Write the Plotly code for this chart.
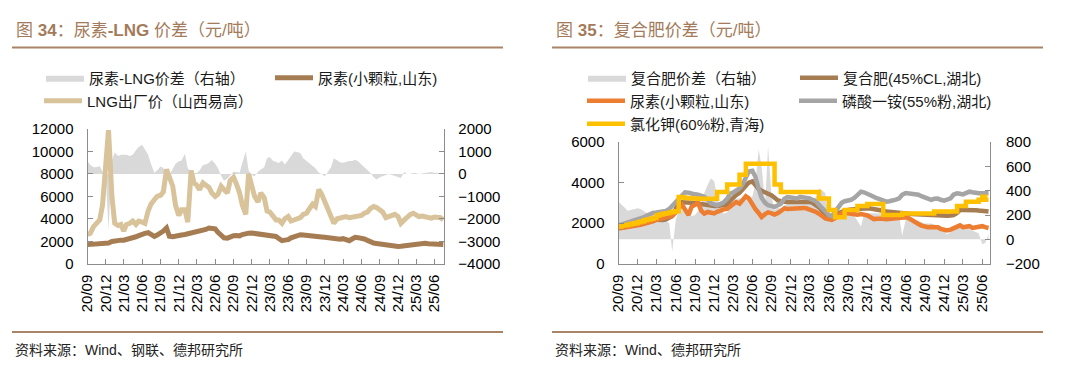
import pandas as pd
import plotly.graph_objects as go

# ---------------- data: left chart (semi-monthly, from 2020-09-01) ----------------
left_dates = pd.date_range("2020-09-01", periods=118, freq="SMS")

urea_lng_spread = [
    560, 400, 300, 300, 350, 100, 0, -2500, 600, 950, 800, 850, 850, 850, 800, 850,
    1050, 1200, 1300, 1080, 850, 450, 50, 150, 330, 260, 0, -50, 250, 450, 560, 600,
    900, 250, 100, 30, 50, 150, 400, 420, 500, 620, 450, 250, -80, -300, -200, -50,
    100, 80, 50, 500, 1000, 150, -50, -100, 100, 200, 300, 700, 750, 600, 520, 480,
    600, 420, 620, 820, 1000, 980, 930, 700, 580, 450, 350, 250, 50, 0, -100, 100,
    300, 700, 600, 520, 500, 550, 580, 570, 630, 560, 420, 280, 150, 50, -150, -250,
    -150, -100, -30, 0, -50, -100, -150, -180, 80, -20, 10, 40, 30, 0, 20, 40,
    60, 80, 50, 40, 50, 40]

urea_sd = [
    1700, 1720, 1750, 1760, 1770, 1780, 1800, 1850, 1980, 2050, 2080, 2100, 2100, 2150, 2200, 2250,
    2400, 2500, 2650, 2700, 2760, 2600, 2430, 2550, 2730, 2900, 3180, 2450, 2400, 2480, 2520, 2560,
    2600, 2650, 2700, 2750, 2880, 2850, 2900, 3050, 3180, 3150, 3100, 2800, 2450, 2300, 2280, 2400,
    2500, 2520, 2480, 2600, 2700, 2720, 2730, 2700, 2680, 2670, 2650, 2600, 2580, 2500, 2430, 2250,
    2050, 2100, 2140, 2300, 2430, 2500, 2580, 2550, 2500, 2520, 2520, 2450, 2400, 2380, 2350, 2300,
    2230, 2180, 2140, 2180, 2230, 2150, 2050, 2200, 2350, 2320, 2290, 2200, 2080, 1950, 1840, 1800,
    1750, 1720, 1690, 1680, 1660, 1600, 1540, 1560, 1600, 1680, 1750, 1780, 1810, 1840, 1870, 1820,
    1780, 1780, 1780, 1730, 1700, 1710]

lng_price = [
    2600, 2700, 3300, 3600, 3900, 5200, 9500, 11900, 6000, 3600, 3400, 3500, 2900, 3500, 3600, 3800,
    3500, 3800, 3700, 3600, 4700, 5300, 5700, 6000, 6100, 6400, 8400, 7700, 6900, 5200, 4300, 4800,
    4800, 3700, 8300, 7200, 7000, 6600, 7200, 7000, 6800, 6300, 6000, 6200, 6900, 6600, 6300, 7400,
    7700, 7100, 6300, 5200, 4400, 8000, 6900, 6000, 5500, 6300, 5900, 4700, 4600, 4200, 3900, 3900,
    3600, 4000, 4200, 3800, 3900, 4000, 4100, 4400, 4500, 4900, 5300, 5100, 6600, 6200, 5500, 5000,
    4400, 3600, 4000, 4100, 4150, 4200, 4100, 4150, 4200, 4250, 4300, 4500, 4600, 4900, 5100, 5000,
    4800, 4600, 4100, 4200, 4300, 4400, 4200, 3600, 3900, 4200, 4400, 4500, 4300, 4200, 4250, 4200,
    4100, 4050, 4150, 4100, 4100, 3900]

# ---------------- data: right chart (semi-monthly, from 2020-09-01) ----------------
right_dates = pd.date_range("2020-09-01", periods=117, freq="SMS")

compound_spread = [
    310, 290, 260, 235, 240, 250, 255, 250, 230, 215, 208, 200, 190, 186, 170, 160,
    130, -100, 160, 240, 250, 220, 200, 190, 200, 230, 300, 380, 450, 500, 480, 350,
    250, 210, 220, 260, 300, 330, 340, 330, 320, 330, 350, 450, 740, 600, 300, 760,
    350, 240, 260, 250, 280, 290, 300, 300, 290, 300, 310, 320, 330, 320, 350, 420,
    400, 380, 170, 160, 160, 190, 200, 200, 200, 200, 190, 150, 105, 200, 214, 214,
    214, 214, 214, 214, 214, 214, 214, 210, 200, 30, 160, 160, 160, 150, 150, 140,
    130, 130, 130, 120, 90, 80, 70, 40, 60, 100, 105, 110, 105, 100, 80, 70,
    60, 50, -40, -30, 40]

compound_hb = [
    1810, 1850, 1880, 1920, 1970, 1990, 2010, 2030, 2050, 2100, 2180, 2170, 2150, 2140, 2150, 2180,
    2250, 2350, 2700, 3010, 3030, 3040, 3020, 3010, 2990, 2960, 2940, 2910, 2880, 2850, 2840, 2840,
    2850, 2880, 2910, 3100, 3280, 3380, 3500, 3680, 3850, 4000, 4060, 3850, 3680, 3600, 3530, 3450,
    3370, 3250, 3120, 3080, 3040, 3040, 3040, 3040, 3050, 3060, 3060, 3060, 3050, 3000, 2900, 2780,
    2600, 2380, 2300, 2290, 2350, 2480, 2560, 2620, 2650, 2670, 2690, 2700, 2710, 2720, 2730, 2720,
    2700, 2690, 2650, 2610, 2570, 2550, 2520, 2500, 2480, 2470, 2460, 2460, 2450, 2440, 2430, 2420,
    2400, 2390, 2380, 2370, 2360, 2350, 2360, 2370, 2380, 2400, 2500, 2650, 2650, 2660, 2650, 2650,
    2640, 2620, 2600, 2570, 2570]

urea_sd_r = [
    1730, 1750, 1760, 1780, 1810, 1850, 1880, 1920, 1970, 2000, 2050, 2100, 2170, 2200, 2230, 2260,
    2290, 2350, 2530, 2750, 2900, 2650, 2400, 2800, 2900, 3000, 2600, 2470, 2550, 2500, 2480, 2560,
    2640, 2680, 2700, 2800, 2950, 3040, 2960, 3100, 3320, 3220, 2900, 2700, 2500, 2300, 2450, 2530,
    2480, 2420, 2500, 2600, 2730, 2700, 2710, 2730, 2750, 2780, 2750, 2720, 2680, 2620, 2550, 2460,
    2300, 2230, 2190, 2160, 2250, 2380, 2500, 2510, 2480, 2470, 2420, 2410, 2450, 2440, 2380, 2300,
    2200, 2220, 2240, 2220, 2190, 2210, 2240, 2260, 2290, 2290, 2290, 2250, 2170, 2080, 1960, 1880,
    1820, 1800, 1810, 1820, 1800, 1720, 1660, 1640, 1680, 1750, 1860, 1890, 1800, 1830, 1850, 1760,
    1790, 1830, 1850, 1800, 1760]

map_hb = [
    1890, 1930, 1980, 2040, 2090, 2140, 2190, 2240, 2290, 2380, 2480, 2510, 2520, 2530, 2540, 2600,
    2700, 2850, 3000, 3200, 3400, 3520, 3500, 3450, 3420, 3400, 3350, 3300, 3150, 2980, 2920, 2880,
    2950, 3020, 3200, 3450, 3500, 3580, 3720, 3900, 4300, 4550, 4580, 4300, 3700, 3250, 3000, 2880,
    2840, 2800, 2880, 2960, 3200, 3280, 3260, 3240, 3220, 3300, 3280, 3250, 3220, 3150, 3070, 2900,
    2750, 2550, 2400, 2350, 2550, 2800, 3000, 3080, 3100, 3150, 3250, 3400, 3550, 3520, 3460, 3380,
    3300, 3230, 3170, 3110, 3060, 3080, 3110, 3160, 3220, 3400, 3480, 3470, 3460, 3430, 3400, 3330,
    3250, 3170, 3150, 3200, 3210, 3150, 3110, 3160, 3220, 3400, 3470, 3450, 3420, 3480, 3550, 3520,
    3480, 3470, 3470, 3470, 3470]

kcl_qh = [
    1840, 1880, 1900, 1930, 1970, 2000, 2040, 2080, 2140, 2180, 2220, 2250, 2380, 2420, 2460, 2490,
    2530, 2560, 2580, 3290, 3260, 3240, 3230, 3220, 3210, 3200, 3200, 3200, 3200, 3200, 3200, 3530,
    3530, 3530, 3910, 3910, 3910, 3910, 4390, 4390, 4930, 4930, 4930, 4930, 4930, 4930, 4930, 4930,
    4930, 3900, 3900, 3530, 3530, 3530, 3530, 3530, 3530, 3530, 3530, 3530, 3530, 3530, 3530, 3220,
    3220, 3220, 2650, 2650, 2290, 2290, 2290, 2650, 2650, 2650, 2650, 2840, 2840, 2840, 2940, 2940,
    2940, 2940, 2940, 2400, 2400, 2400, 2400, 2400, 2400, 2480, 2480, 2480, 2480, 2480, 2480, 2480,
    2480, 2480, 2480, 2570, 2570, 2570, 2570, 2570, 2570, 2570, 2840, 2840, 2840, 3050, 3050, 3050,
    3050, 3150, 3300, 3150, 3150]

# ---------------- styling ----------------
W, H = 1080, 379
BROWN_TXT = "#A47B5A"
RULE = "#A98467"
AX = "#8C8C8C"
FONT = "Liberation Sans, Arial, Noto Sans CJK SC, sans-serif"
TICKF = dict(family=FONT, size=15, color="#000000")
LEGF = dict(family=FONT, size=15, color="#1a1a1a")


def px(x):
    return x / W


def py(y):
    return 1 - y / H


fig = go.Figure()

# left chart
fig.add_trace(go.Scatter(x=left_dates, y=urea_lng_spread, name="尿素-LNG价差（右轴）",
                         mode="lines", fill="tozeroy", fillcolor="#D9D9D9",
                         line=dict(width=0, color="#D9D9D9"), xaxis="x", yaxis="y", legend="legend"))
fig.add_trace(go.Scatter(x=left_dates, y=urea_sd, name="尿素(小颗粒,山东)", mode="lines",
                         line=dict(width=5, color="#A67C52"), xaxis="x", yaxis="y2", legend="legend"))
fig.add_trace(go.Scatter(x=left_dates, y=lng_price, name="LNG出厂价（山西易高）", mode="lines",
                         line=dict(width=5, color="#D8C39A"), xaxis="x", yaxis="y2", legend="legend2"))

# right chart
fig.add_trace(go.Scatter(x=right_dates, y=compound_spread, name="复合肥价差（右轴）",
                         mode="lines", fill="tozeroy", fillcolor="#D9D9D9",
                         line=dict(width=0, color="#D9D9D9"), xaxis="x2", yaxis="y3", legend="legend3"))
fig.add_trace(go.Scatter(x=right_dates, y=compound_hb, name="复合肥(45%CL,湖北)", mode="lines",
                         line=dict(width=4.5, color="#A67C52"), xaxis="x2", yaxis="y4", legend="legend3"))
fig.add_trace(go.Scatter(x=right_dates, y=urea_sd_r, name="尿素(小颗粒,山东)", mode="lines",
                         line=dict(width=4.5, color="#ED7D31"), xaxis="x2", yaxis="y4", legend="legend4"))
fig.add_trace(go.Scatter(x=right_dates, y=map_hb, name="磷酸一铵(55%粉,湖北)", mode="lines",
                         line=dict(width=4.5, color="#A5A5A5"), xaxis="x2", yaxis="y4", legend="legend4"))
fig.add_trace(go.Scatter(x=right_dates, y=kcl_qh, name="氯化钾(60%粉,青海)", mode="lines",
                         line=dict(width=4.5, color="#FFC000", shape="hv"), xaxis="x2", yaxis="y4",
                         legend="legend5"))

common_axis = dict(showline=True, linecolor=AX, linewidth=1, ticks="inside", ticklen=5,
                   tickcolor=AX, showgrid=False, zeroline=False, tickfont=TICKF)

xcommon = dict(common_axis, type="date", tickformat="%y/%m", dtick="M3", tick0="2020-09-01",
               tickangle=-90, ticklabelstandoff=4)

ld = [py(263.7), py(129)]
rd = [py(263.7), py(142)]

legcommon = dict(xanchor="left", yanchor="middle", orientation="h", itemwidth=38,
                 font=LEGF, bgcolor="rgba(0,0,0,0)")
LOFF = 7

fig.update_layout(
    width=W, height=H, autosize=False,
    margin=dict(l=0, r=0, t=0, b=0, autoexpand=False),
    paper_bgcolor="white", plot_bgcolor="white",
    hovermode=False,
    xaxis=dict(xcommon, domain=[px(87.5), px(444.3)], anchor="y",
               range=["2020-09-01", "2025-07-20"]),
    yaxis=dict(common_axis, domain=ld, anchor="x", side="right", range=[-4000, 2000],
               dtick=1000, tickformat="d", ticklabelstandoff=10),
    yaxis2=dict(common_axis, domain=ld, anchor="x", side="left", overlaying="y",
                range=[0, 12000], dtick=2000, tickformat="d", ticklabelstandoff=10),
    xaxis2=dict(xcommon, domain=[px(618.5), px(990)], anchor="y3",
                range=["2020-09-01", "2025-07-08"]),
    yaxis3=dict(common_axis, domain=rd, anchor="x2", side="right", range=[-200, 800],
                dtick=200, tickformat="d", ticklabelstandoff=12),
    yaxis4=dict(common_axis, domain=rd, anchor="x2", side="left", overlaying="y3",
                range=[0, 6000], dtick=2000, tickformat="d", ticklabelstandoff=10),
    legend=dict(legcommon, x=px(48 - LOFF), y=py(78), entrywidth=176),
    legend2=dict(legcommon, x=px(46 - LOFF), y=py(101)),
    legend3=dict(legcommon, x=px(590 - LOFF), y=py(78), entrywidth=159),
    legend4=dict(legcommon, x=px(589 - LOFF), y=py(101), entrywidth=159),
    legend5=dict(legcommon, x=px(589 - LOFF), y=py(124)),
)

# titles, rules and sources
TITLE_F = dict(family=FONT, size=17, color=BROWN_TXT)
SRC_F = dict(family=FONT, size=14, color="#222222")
for x0, x1, title, src in [
    (12, 503, "图 <b>34</b>：尿素<b>-LNG</b> 价差（元/吨）", "资料来源：Wind、钢联、德邦研究所"),
    (552, 1043, "图 <b>35</b>：复合肥价差（元/吨）", "资料来源：Wind、德邦研究所"),
]:
    fig.add_annotation(x=px(x0 + 2), y=py(30), xref="paper", yref="paper", xanchor="left",
                       yanchor="middle", text=title, showarrow=False, font=TITLE_F)
    fig.add_annotation(x=px(x0 + 1), y=py(350), xref="paper", yref="paper", xanchor="left",
                       yanchor="middle", text=src, showarrow=False, font=SRC_F)
    for yy in (47.5, 332):
        fig.add_shape(type="line", xref="paper", yref="paper", x0=px(x0), x1=px(x1),
                      y0=py(yy), y1=py(yy), line=dict(color=RULE, width=2))

fig.write_html("out.html", config={"displayModeBar": False, "staticPlot": True},
               post_script="document.body.style.margin='0px';")
